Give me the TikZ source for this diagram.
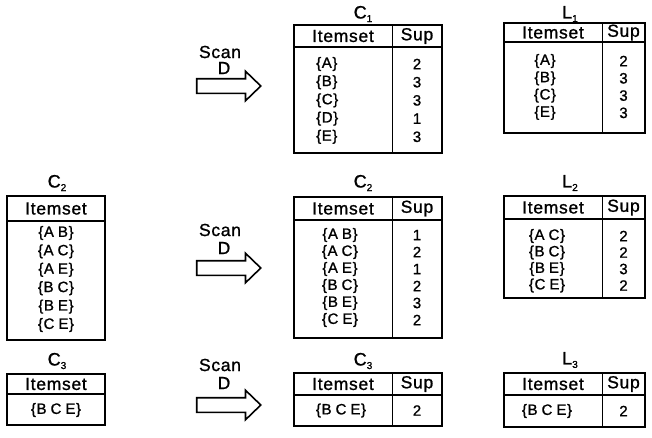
\documentclass[tikz,border=0pt]{standalone}
\usepackage{fontspec}
\setmainfont{Liberation Sans}[LetterSpace=4, FakeBold=1.1]
\usetikzlibrary{shapes.arrows}

% wide gap between the letters of an itemset
\newcommand\gp{\hspace{4pt}}
% table outline: x1, top, x2, bottom, header rule, column rule
\newcommand\tabframe[6]{%
  \draw[frame] (#1,#2) rectangle (#3,#4);
  \draw[hrule] (#1,#5) -- (#3,#5);
  \draw[vrule] (#6,#2) -- (#6,#4);
}
\newcommand\tabframeone[5]{%
  \draw[frame] (#1,#2) rectangle (#3,#4);
  \draw[hrule] (#1,#5) -- (#3,#5);
}
\newcommand\ttl[2]{#1\raisebox{-3.5pt}{\fontsize{10}{10}\selectfont #2}}

\tikzset{
  frame/.style={line width=1.8pt},
  hrule/.style={line width=1.3pt},
  vrule/.style={line width=0.8pt},
  head/.style={font=\fontsize{17.5}{18}\selectfont, inner sep=0pt},
  cell/.style={font=\fontsize{15}{16}\selectfont, inner sep=0pt},
  title/.style={font=\fontsize{18}{18}\selectfont, inner sep=0pt},
  scan/.style={font=\fontsize{17.5}{18}\selectfont, inner sep=0pt},
  bigarrow/.style={single arrow, draw, line width=1.6pt, inner sep=0pt,
    minimum height=64pt, minimum width=28pt, single arrow head extend=7.5pt,
    text height=13pt, text depth=0pt, text width=0pt, single arrow tip angle=88},
}

\begin{document}
\begin{tikzpicture}[x=1pt, y=-1pt]
\useasboundingbox (0,0) rectangle (652,437);

% ---------- first pass ----------
\node[scan] (scan1) at (220,52) {Scan};
\node[scan] (d1) at (224,68) {D};
\node[bigarrow] (arr1) at (225,86) {};

\node[title] (c1t) at (363,14) {\ttl{C}{1}};
\tabframe{294}{25}{442}{153}{47}{392}
\node[head] (c1h1) at (343,36) {Itemset};
\node[head] (c1h2) at (417,36) {Sup};
\foreach \s/\n [count=\i from 0] in {A/2,B/3,C/3,D/1,E/3}{
  \node[cell, anchor=west] (c1a\i) at (316,64+18.2*\i) {\{\s\}};
  \node[cell] (c1b\i) at (417,64+18.2*\i) {\n};
}

\node[title] (l1t) at (570,14) {\ttl{L}{1}};
\tabframe{504}{23}{645}{133}{42}{602}
\node[head] (l1h1) at (553,32.5) {Itemset};
\node[head] (l1h2) at (623.5,32.5) {Sup};
\foreach \s/\n [count=\i from 0] in {A/2,B/3,C/3,E/3}{
  \node[cell] (l1a\i) at (545,61+17.3*\i) {\{\s\}};
  \node[cell] (l1b\i) at (623.5,61+17.3*\i) {\n};
}

% ---------- second pass ----------
\node[title] (c2lt) at (57,183) {\ttl{C}{2}};
\tabframeone{7}{196}{105}{340}{221}
\node[head] (c2lh) at (56,208.5) {Itemset};
\foreach \s [count=\i from 0] in {A\gp B,A\gp C,A\gp E,B\gp C,B\gp E,C\gp E}{
  \node[cell] (c2la\i) at (56,233+18.4*\i) {\{\s\}};
}

\node[scan] (scan2) at (220,230) {Scan};
\node[scan] (d2) at (224,248) {D};
\node[bigarrow] (arr2) at (225,268) {};

\node[title] (c2t) at (363,183) {\ttl{C}{2}};
\tabframe{294}{197}{442}{338}{220}{392}
\node[head] (c2h1) at (343,208.5) {Itemset};
\node[head] (c2h2) at (417,208.5) {Sup};
\foreach \s/\n [count=\i from 0] in {A\gp B/1,A\gp C/2,A\gp E/1,B\gp C/2,B\gp E/3,C\gp E/2}{
  \node[cell] (c2a\i) at (340,235+17*\i) {\{\s\}};
  \node[cell] (c2b\i) at (417,235+17*\i) {\n};
}

\node[title] (l2t) at (570,183) {\ttl{L}{2}};
\tabframe{504}{196}{645}{298}{219}{602}
\node[head] (l2h1) at (553,207.5) {Itemset};
\node[head] (l2h2) at (623.5,207.5) {Sup};
\foreach \s/\n [count=\i from 0] in {A\gp C/2,B\gp C/2,B\gp E/3,C\gp E/2}{
  \node[cell] (l2a\i) at (547,236+16.5*\i) {\{\s\}};
  \node[cell] (l2b\i) at (623.5,236+16.5*\i) {\n};
}

% ---------- third pass ----------
\node[title] (c3lt) at (57,361) {\ttl{C}{3}};
\tabframeone{7}{374}{105}{425}{394}
\node[head] (c3lh) at (56,384) {Itemset};
\node[cell] (c3la0) at (56,410) {\{B\gp C\gp E\}};

\node[scan] (scan3) at (220,365) {Scan};
\node[scan] (d3) at (224,383) {D};
\node[bigarrow] (arr3) at (225,405) {};

\node[title] (c3t) at (363,361) {\ttl{C}{3}};
\tabframe{294}{373}{442}{426}{395}{392}
\node[head] (c3h1) at (343,384) {Itemset};
\node[head] (c3h2) at (417,384) {Sup};
\node[cell] (c3a0) at (341,410.5) {\{B\gp C\gp E\}};
\node[cell] (c3b0) at (417,410.5) {2};

\node[title] (l3t) at (570,360) {\ttl{L}{3}};
\tabframe{504}{373}{645}{427}{395}{602}
\node[head] (l3h1) at (553,384) {Itemset};
\node[head] (l3h2) at (623.5,384) {Sup};
\node[cell] (l3a0) at (547,411) {\{B\gp C\gp E\}};
\node[cell] (l3b0) at (623.5,411) {2};
\end{tikzpicture}
\end{document}
